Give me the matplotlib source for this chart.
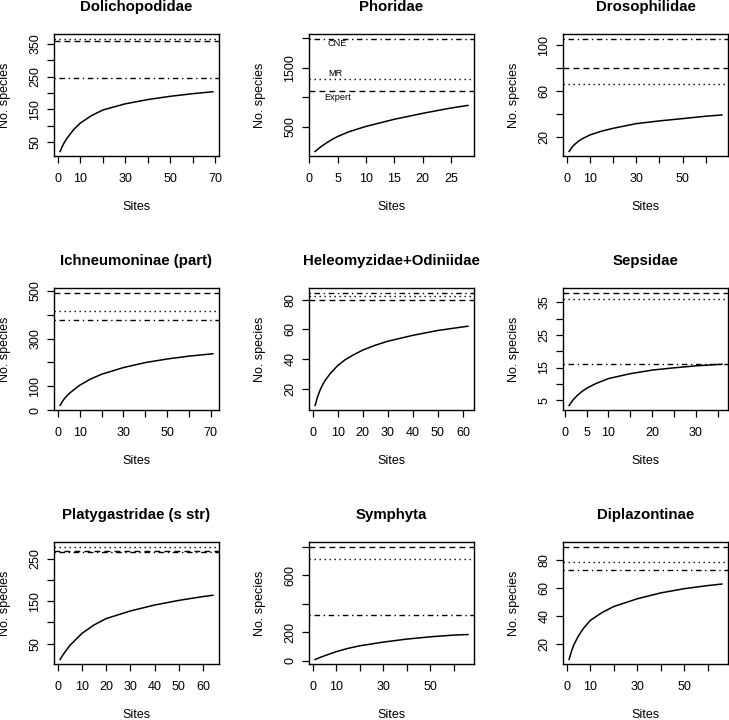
import matplotlib
matplotlib.use("Agg")
import matplotlib.pyplot as plt

plt.rcParams['font.family'] = ['Liberation Sans', 'DejaVu Sans']

# taxon names, one panel each
titles = ['Dolichopodidae', 'Phoridae', 'Drosophilidae',
          'Ichneumoninae (part)', 'Heleomyzidae+Odiniidae', 'Sepsidae',
          'Platygastridae (s str)', 'Symphyta', 'Diplazontinae']

# accumulation curves (sites, species)
dolicho_x = [1, 2, 3, 4, 5, 7, 10, 15, 20, 30, 40, 50, 60, 69]
dolicho_y = [21, 37, 50, 61, 70, 88, 108, 131, 148, 167, 180, 190, 198, 204]
phorid_x = [1, 2, 3, 4, 5, 7, 10, 15, 20, 25, 28]
phorid_y = [86, 165, 230, 290, 340, 420, 510, 630, 730, 820, 864]
droso_x = [1, 2, 3, 5, 7, 10, 15, 20, 30, 40, 50, 60, 67]
droso_y = [7, 10, 12.5, 16, 18.5, 21.5, 24.8, 27.3, 31.4, 33.8, 35.8, 37.9, 39]
ichneu_x = [1, 2, 3, 5, 7, 10, 15, 20, 30, 40, 50, 60, 71]
ichneu_y = [19.6, 35, 48, 68, 83, 104, 130, 150, 178, 199, 214, 226, 236]
heleo_x = [1, 2, 3, 4, 5, 7, 10, 13, 16, 20, 25, 30, 40, 50, 62]
heleo_y = [8.5, 14.5, 19, 22.5, 25.5, 30, 35.5, 39.5, 42.5, 46, 49.3, 52, 56, 59.3, 62.2]
sepsid_x = [1, 2, 3, 4, 5, 7, 10, 15, 20, 25, 30, 36]
sepsid_y = [3.35, 5.2, 6.6, 7.7, 8.6, 10, 11.6, 13.1, 14.2, 14.9, 15.5, 16]
platy_x = [1, 2, 3, 5, 7, 10, 15, 20, 30, 40, 50, 60, 64]
platy_y = [12.5, 22, 30, 45.5, 57, 74, 94, 109, 127, 141, 152, 161, 164]
symph_x = [1, 2, 3, 5, 7, 10, 15, 20, 30, 40, 50, 60, 66]
symph_y = [9.3, 16, 23, 35, 47, 64, 87, 105, 131, 152, 168, 180, 184]
diplaz_x = [1, 2, 3, 5, 7, 10, 15, 20, 30, 40, 50, 60, 66]
diplaz_y = [9.1, 15, 19.5, 26, 31, 36.9, 42.5, 46.8, 52.3, 56.5, 59.5, 61.7, 62.8]

curves_x = [dolicho_x, phorid_x, droso_x, ichneu_x, heleo_x,
            sepsid_x, platy_x, symph_x, diplaz_x]
curves_y = [dolicho_y, phorid_y, droso_y, ichneu_y, heleo_y,
            sepsid_y, platy_y, symph_y, diplaz_y]

# richness estimates drawn as horizontal lines
expert = [359, 1116, 80, 493, 80, 38, 268, 800, 89.5]
mr = [367, 1312, 66, 415, 82.5, 36, 279, 716, 78.6]
cne = [246, 1994, 106, 376, 85, 16, 267, 318, 72.7]

# tick positions and labels (R drops labels that would overlap)
xticks = [list(range(0, 71, 10)), list(range(0, 26, 5)), list(range(0, 61, 10)),
          list(range(0, 71, 10)), list(range(0, 61, 10)), list(range(0, 36, 5)),
          list(range(0, 61, 10)), list(range(0, 61, 10)), list(range(0, 61, 10))]
xlabs = [['0', '10', '', '30', '', '50', '', '70'],
         ['0', '5', '10', '15', '20', '25'],
         ['0', '10', '', '30', '', '50', ''],
         ['0', '10', '', '30', '', '50', '', '70'],
         ['0', '10', '20', '30', '40', '50', '60'],
         ['0', '5', '10', '', '20', '', '30', ''],
         ['0', '10', '20', '30', '40', '50', '60'],
         ['0', '10', '', '30', '', '50', ''],
         ['0', '10', '', '30', '', '50', '']]
yticks = [list(range(50, 351, 50)), [500, 1000, 1500, 2000], [20, 40, 60, 80, 100],
          list(range(0, 501, 100)), [20, 40, 60, 80], list(range(5, 36, 5)),
          [50, 100, 150, 200, 250], [0, 200, 400, 600, 800], [20, 40, 60, 80]]
ylabs = [['50', '', '150', '', '250', '', '350'],
         ['500', '', '1500', ''],
         ['20', '', '60', '', '100'],
         ['0', '100', '', '300', '', '500'],
         ['20', '40', '60', '80'],
         ['5', '', '15', '', '25', '', '35'],
         ['50', '', '150', '', '250'],
         ['0', '200', '', '600', ''],
         ['20', '40', '60', '80']]

W, H = 729, 720
fig = plt.figure(figsize=(W / 100, H / 100), dpi=100)

box_left = [54, 309, 563]
box_top = [34, 288, 542]
bw, bh = 165, 122

for i in range(9):
    r, c = divmod(i, 3)
    ax = fig.add_axes([box_left[c] / W, 1 - (box_top[r] + bh) / H, bw / W, bh / H])
    xs, ys = curves_x[i], curves_y[i]
    ax.plot(xs, ys, color='black', lw=1.1)
    ax.axhline(expert[i], color='black', lw=1.0, linestyle=(0, (4.2, 3.0)))
    ax.axhline(mr[i], color='black', lw=1.0, linestyle=(0, (1.0, 2.6)))
    ax.axhline(cne[i], color='black', lw=1.0, linestyle=(0, (1.0, 2.6, 4.0, 2.6)))

    n = xs[-1]
    ax.set_xlim(1 - 0.04 * (n - 1), n + 0.04 * (n - 1))
    lo, hi = min(ys), max(expert[i], mr[i], cne[i])
    ax.set_ylim(lo - 0.04 * (hi - lo), hi + 0.04 * (hi - lo))

    ax.set_xticks(xticks[i])
    ax.set_xticklabels(xlabs[i])
    ax.set_yticks(yticks[i])
    ax.set_yticklabels(ylabs[i], rotation=90, va='center')
    ax.tick_params(direction='out', length=5, width=0.9, labelsize=9)
    ax.tick_params(axis='x', pad=7)
    ax.tick_params(axis='y', pad=4)
    for s in ax.spines.values():
        s.set_linewidth(1.0)

    ax.set_title(titles[i], fontsize=10.8, fontweight='bold', pad=16.5)
    ax.set_xlabel('Sites', fontsize=9)
    ax.xaxis.set_label_coords(0.5, -0.37)
    ax.set_ylabel('No. species', fontsize=9)
    ax.yaxis.set_label_coords(-0.26, 0.5)

    if titles[i] == 'Phoridae':
        ax.text(4.9, 1905, 'CNE', fontsize=6.6, ha='center', va='center')
        ax.text(4.5, 1407, 'MR', fontsize=6.6, ha='center', va='center')
        ax.text(5.0, 998, 'Expert', fontsize=6.6, ha='center', va='center')

fig.savefig('out.png', dpi=100)
